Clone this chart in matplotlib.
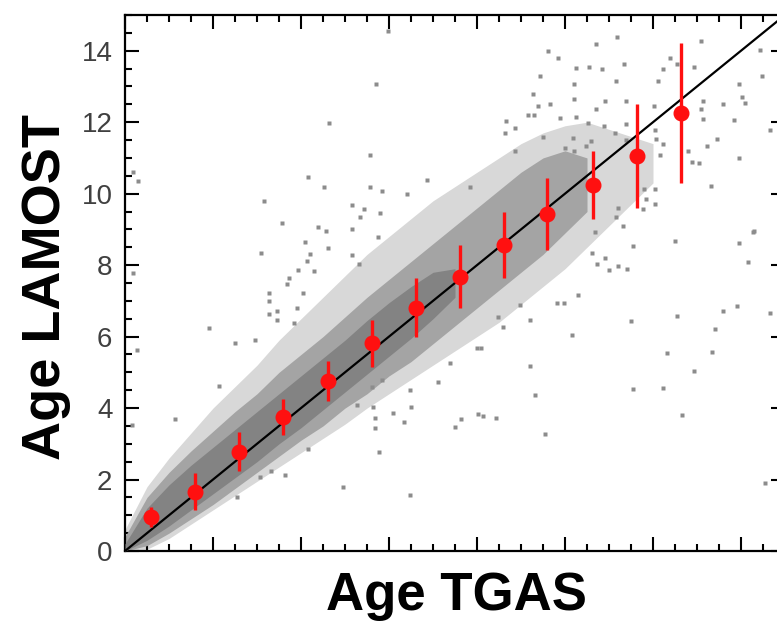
import matplotlib
matplotlib.use('Agg')
from matplotlib import pyplot as plt

# binned means (red points) : age TGAS, age LAMOST, scatter
bin_x = [0.59, 1.59, 2.60, 3.58, 4.61, 5.61, 6.61, 7.61, 8.62, 9.58, 10.63, 11.63, 12.64]
bin_y = [0.95, 1.66, 2.78, 3.74, 4.76, 5.81, 6.81, 7.68, 8.56, 9.43, 10.24, 11.06, 12.27]
bin_err = [0.27, 0.52, 0.55, 0.50, 0.57, 0.65, 0.83, 0.87, 0.93, 1.00, 0.95, 1.45, 1.96]

# outline of the dense part of the cloud (solid gray)
core_x = [0.0, 0.5, 1.0, 1.5, 2.0, 2.5, 3.0, 3.5, 4.0, 4.5, 5.0, 5.5, 6.0, 6.5, 7.0, 7.5]
core_lo = [0.0, 0.3, 0.7, 1.15, 1.6, 2.05, 2.5, 3.0, 3.45, 3.95, 4.45, 4.95, 5.45, 5.95, 6.5, 7.1]
core_hi = [0.2, 1.2, 1.85, 2.4, 2.9, 3.4, 3.9, 4.4, 4.9, 5.4, 5.9, 6.45, 6.95, 7.4, 7.8, 7.9]

# mottled part of the cloud
mid_x = [0.0, 0.5, 1.0, 1.5, 2.0, 2.5, 3.0, 3.5, 4.0, 4.5, 5.0, 5.5, 6.0, 6.5, 7.0, 7.5, 8.0, 8.5, 9.0, 9.5, 10.0, 10.5]
mid_lo = [0.0, 0.15, 0.5, 0.9, 1.3, 1.75, 2.2, 2.65, 3.1, 3.5, 4.0, 4.4, 4.9, 5.3, 5.8, 6.3, 6.8, 7.3, 7.8, 8.3, 8.9, 9.5]
mid_hi = [0.4, 1.5, 2.2, 2.8, 3.35, 3.9, 4.4, 5.0, 5.5, 6.0, 6.55, 7.1, 7.6, 8.1, 8.6, 9.1, 9.6, 10.1, 10.6, 11.0, 11.2, 11.0]

# sparse halo
halo_x = [0.0, 0.5, 1.0, 1.5, 2.0, 2.5, 3.0, 3.5, 4.0, 4.5, 5.0, 5.5, 6.0, 6.5, 7.0, 7.5, 8.0, 8.5, 9.0, 9.5, 10.0, 10.5, 11.0, 11.5, 12.0]
halo_lo = [0.0, 0.05, 0.35, 0.75, 1.15, 1.55, 1.95, 2.35, 2.75, 3.15, 3.55, 4.0, 4.4, 4.8, 5.2, 5.6, 6.0, 6.4, 6.9, 7.4, 7.9, 8.5, 9.1, 9.7, 10.3]
halo_hi = [0.6, 1.8, 2.6, 3.3, 4.0, 4.6, 5.2, 5.9, 6.5, 7.1, 7.7, 8.3, 8.8, 9.3, 9.8, 10.2, 10.6, 11.0, 11.4, 11.7, 11.9, 12.0, 11.8, 11.6, 11.4]

# isolated stars outside the cloud
out_x = [5.98, 5.70, 4.64, 5.57, 4.15, 4.53, 5.57, 5.83, 3.17, 0.19, 0.29, 3.56, 5.15, 5.44, 4.39,
         4.56, 5.17, 5.33, 5.74, 4.08, 3.10, 4.61, 4.20, 4.13, 5.15, 5.32, 0.19, 3.94, 4.30, 3.73,
         3.69, 3.28, 4.05, 3.27, 3.90, 3.45, 3.27, 1.91, 3.45, 3.83, 0.27, 2.50, 2.95, 2.14, 1.14,
         0.15, 5.80, 6.40, 6.86, 7.84,
         11.19, 10.70, 13.10, 9.62, 9.83, 10.25, 10.55, 10.85, 11.33, 9.43, 12.39, 12.54, 12.94, 12.22,
         12.12, 11.16, 10.20, 13.96, 14.43, 14.48, 9.28, 10.20, 9.66, 10.91, 11.39, 12.03, 13.13, 13.60,
         14.03, 14.09, 9.38, 10.70, 13.10, 9.15, 9.30, 9.89, 10.25, 13.13, 13.83, 10.53, 10.89, 11.39,
         8.66, 8.86, 8.64, 11.14, 12.05, 14.66, 9.51, 10.19, 10.58, 11.39, 12.07, 12.23, 13.23, 13.46,
         8.86, 10.00, 10.20, 10.48, 12.80, 12.88, 13.05, 13.96, 12.16, 13.31, 12.05, 11.80, 11.84, 11.77,
         12.05, 11.21, 11.17, 11.31, 14.30,
         10.68, 11.54, 12.50, 13.96, 14.28, 10.61, 10.91, 10.72, 11.00, 11.20, 11.40, 14.17, 11.49, 12.54,
         13.60, 13.92, 14.66, 13.41, 12.31, 13.35, 12.93, 11.54, 12.22, 12.65, 14.55,
         6.49, 6.33, 7.50, 7.63, 8.03, 8.13, 8.43, 9.55, 6.48, 4.95, 5.78, 5.68, 5.68, 6.10, 5.27,
         3.64, 2.54, 3.07, 3.32, 4.17, 5.64, 5.83, 5.61,
         9.20, 9.32, 10.15, 10.30, 8.10, 7.99, 7.39, 7.12, 6.48, 9.20, 8.98, 9.81, 9.97, 8.60, 8.47]
out_y = [14.56, 13.07, 11.98, 11.07, 10.46, 10.20, 10.20, 10.08, 9.80, 10.60, 10.36, 9.19, 9.68, 9.56, 9.06,
         8.96, 9.00, 9.36, 8.78, 8.65, 8.35, 8.47, 8.30, 8.12, 8.28, 8.04, 7.77, 7.86, 7.84, 7.63,
         7.46, 7.23, 7.23, 7.00, 6.81, 6.72, 6.62, 6.23, 6.47, 6.37, 5.63, 5.81, 5.90, 4.62, 3.69,
         3.53, 9.45, 10.00, 10.38, 10.18,
         14.39, 14.19, 14.27, 13.98, 13.81, 13.51, 13.54, 13.49, 13.63, 13.30, 13.79, 13.62, 13.54, 13.48,
         13.15, 13.14, 13.06, 13.06, 14.02, 13.30, 12.79, 12.64, 12.51, 12.60, 12.60, 12.44, 12.58, 12.50,
         12.71, 12.53, 12.44, 12.36, 12.37, 12.20, 12.20, 12.11, 12.14, 12.09, 12.06, 11.97, 11.88, 11.94,
         12.03, 11.83, 11.69, 11.69, 11.78, 11.78, 11.58, 11.55, 11.48, 11.50, 11.53, 11.38, 11.34, 11.53,
         11.20, 11.27, 11.20, 11.33, 11.20, 10.90, 10.85, 10.99, 11.07, 10.22, 10.13, 10.13, 9.85, 9.57,
         9.70, 9.61, 9.36, 9.10, 8.96,
         8.94, 8.54, 8.68, 8.63, 8.94, 8.35, 8.21, 8.02, 7.85, 7.98, 7.88, 8.08, 6.44, 6.59,
         6.72, 6.86, 6.67, 6.21, 5.55, 5.58, 5.05, 4.53, 4.57, 3.81, 1.89,
         4.04, 3.62, 3.46, 3.69, 3.83, 3.78, 3.71, 3.27, 1.57, 1.78, 2.78, 3.43, 3.71, 3.85, 4.09,
         2.13, 1.50, 2.06, 2.25, 2.85, 4.04, 4.79, 4.60,
         5.18, 4.37, 6.05, 7.16, 5.67, 5.67, 5.27, 4.74, 4.51, 6.47, 6.89, 6.93, 6.95, 6.28, 6.56]

y_ticks = [0, 2, 4, 6, 8, 10, 12, 14]

plt.rcParams['font.family'] = ['Liberation Sans', 'DejaVu Sans']

fig = plt.figure(figsize=(7.77, 6.21), dpi=100)
ax = fig.add_axes([125 / 777., 70 / 621., 660 / 777., 536 / 621.])

ax.fill_between(halo_x, halo_lo, halo_hi, color='#d8d8d8', lw=0, zorder=1)
ax.fill_between(mid_x, mid_lo, mid_hi, color='#a4a4a4', lw=0, zorder=2)
ax.fill_between(core_x, core_lo, core_hi, color='#838383', lw=0, zorder=3)
ax.plot(out_x, out_y, ls='none', marker='s', ms=3.0, mec='none', mfc='#8c8c8c', zorder=4)

ax.plot([0, 15], [0, 15], color='black', lw=1.6, zorder=5)
ax.errorbar(bin_x, bin_y, yerr=bin_err, fmt='o', color='#ff1010', ms=10.5,
            elinewidth=2.4, capsize=0, zorder=6)

ax.set_xlim(0, 15)
ax.set_ylim(0, 15)
ax.set_xticks(range(0, 16, 2))
ax.set_xticks([i * 0.5 for i in range(31)], minor=True)
ax.set_yticks(y_ticks)
ax.set_yticks([i * 0.5 for i in range(31)], minor=True)
ax.tick_params(which='both', direction='in', top=True, right=True, width=1.5, color='black')
ax.tick_params(which='major', length=10)
ax.tick_params(which='minor', length=5)
ax.tick_params(axis='y', labelsize=20, labelcolor='#404040', pad=9)
ax.tick_params(axis='x', labelbottom=False)
for s in ax.spines.values():
    s.set_linewidth(1.6)

fig.text(456.5 / 777., 1 - 610 / 621., 'Age TGAS', fontsize=38, fontweight='bold',
         ha='center', va='baseline')
fig.text(60 / 777., 1 - 287 / 621., 'Age LAMOST', fontsize=39, fontweight='bold',
         rotation=90, rotation_mode='anchor', ha='center', va='baseline')

fig.savefig('out.png', dpi=100)
